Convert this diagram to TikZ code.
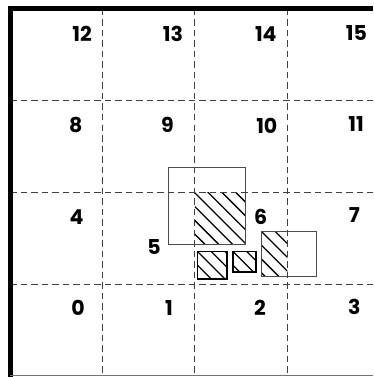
\documentclass[tikz,border=0pt]{standalone}
\usepackage{fontspec}
\setmainfont{Poppins}
\newcommand{\hatchbox}[4]{%
  \begin{scope}
    \clip (#1,#2) rectangle (#3,#4);
    \foreach \k in {-8,...,8}{
      \draw[hatchline] ({#1+\k*13.8-120},{#2-120}) -- ({#1+\k*13.8+120},{#2+120});
    }
  \end{scope}}
\begin{document}
\begin{tikzpicture}[x=1pt,y=-1pt,
  gridline/.style={dash pattern=on 6.5pt off 4pt, line width=1pt, black!75},
  frameline/.style={black, line width=4.5pt},
  lbl/.style={font=\fontsize{20.5}{20.5}\selectfont\bfseries, inner sep=0pt},
  hatchline/.style={line width=1.3pt, black},
  greybox/.style={draw=black!70, line width=1pt},
  blackbox/.style={draw=black, line width=1.2pt}
]
\useasboundingbox (0,0) rectangle (373,377);
% hatching
\hatchbox{194.8}{192.8}{245}{244}
\hatchbox{197.5}{251.5}{227}{279}
\hatchbox{233}{251.5}{256}{272}
\hatchbox{261.5}{231.5}{287.3}{276}
% boxes
\draw[greybox] (168,167) rectangle (245,244);
\draw[greybox] (261.5,231.5) rectangle (316,276);
\draw[blackbox] (197.5,251.5) rectangle (227,279);
\draw[blackbox] (233,251.5) rectangle (256,272);
% grid
\coordinate (v1t) at (102.3,9); \coordinate (v1b) at (102.3,377);
\coordinate (v2t) at (194.8,9); \coordinate (v2b) at (194.8,377);
\coordinate (v3t) at (287.3,9); \coordinate (v3b) at (287.3,377);
\coordinate (h1l) at (10,100.8); \coordinate (h1r) at (373,100.8);
\coordinate (h2l) at (10,192.8); \coordinate (h2r) at (373,192.8);
\coordinate (h3l) at (10,284.6); \coordinate (h3r) at (373,284.6);
\draw[gridline] (v1t) -- (v1b);
\draw[gridline] (v2t) -- (v2b);
\draw[gridline] (v3t) -- (v3b);
\draw[gridline] (h1l) -- (h1r);
\draw[gridline] (h2l) -- (h2r);
\draw[gridline] (h3l) -- (h3r);
% frame
\draw[frameline] (10.5,377) -- (10.5,8.7) -- (373,8.7);
\draw[black!55, line width=1.2pt] (10,375.5) -- (373,375.5);
% labels
\node[lbl] (n12) at (82.2,33.5) {12};
\node[lbl] (n13) at (173,34.3) {13};
\node[lbl] (n14) at (265.8,34.3) {14};
\node[lbl] (n15) at (356.5,33.5) {15};
\node[lbl] (n8) at (75.8,125.3) {8};
\node[lbl] (n9) at (167.5,125.3) {9};
\node[lbl] (n10) at (266.8,125.8) {10};
\node[lbl] (n11) at (356,124.3) {11};
\node[lbl] (n4) at (76.5,217) {4};
\node[lbl] (n5) at (154,247.3) {5};
\node[lbl] (n6) at (260.7,216.7) {6};
\node[lbl] (n7) at (354.3,215.5) {7};
\node[lbl] (n0) at (78,308) {0};
\node[lbl] (n1) at (169,308) {1};
\node[lbl] (n2) at (260,308.3) {2};
\node[lbl] (n3) at (354.3,307) {3};
\end{tikzpicture}
\end{document}
